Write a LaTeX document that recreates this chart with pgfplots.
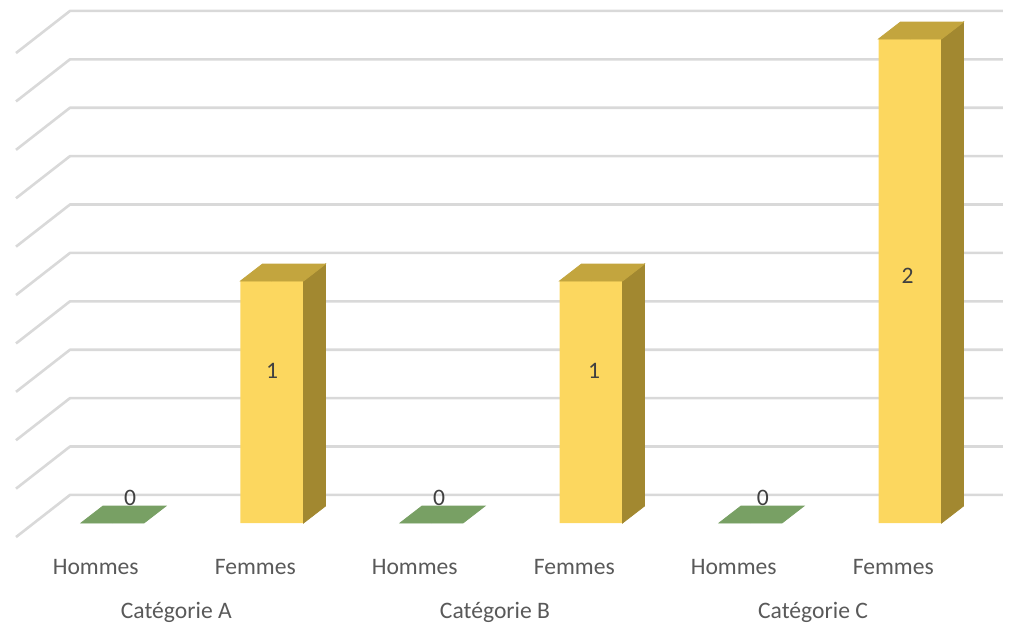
\documentclass[border=0pt]{standalone}
\usepackage{pgfplots}
\pgfplotsset{compat=1.18}
\usepackage{pgfplotstable}
\usepackage{fontspec}
\setmainfont{Carlito}
\definecolor{barfront}{RGB}{252,215,95}
\definecolor{bartop}{RGB}{195,165,62}
\definecolor{barside}{RGB}{162,136,48}
\definecolor{plate}{RGB}{120,160,100}
\definecolor{gridgray}{RGB}{217,217,217}
\definecolor{txt}{RGB}{89,89,89}
\definecolor{lab}{RGB}{64,64,64}

% values per category (x = slot index)
\pgfplotstableread{
x y
0 0
2 0
4 0
}\hommes
\pgfplotstableread{
x y
1 1
3 1
5 2
}\femmes

% 3d faces drawn at the top centre of each bar
\pgfplotsset{
  femmes3d/.style={only marks, scatter, mark=*, mark size=0pt,
    mark options={draw=none, fill=none},
    visualization depends on={\thisrow{y} \as \hval},
    scatter/@pre marker code/.code={
      \fill[barside] (15.75pt,0pt) -- (26.75pt,8.5pt) -- (26.75pt,{8.5pt-\hval*121pt}) -- (15.75pt,{-\hval*121pt}) -- cycle;
      \fill[bartop] (-15.75pt,0pt) -- (15.75pt,0pt) -- (26.75pt,8.5pt) -- (-4.75pt,8.5pt) -- cycle;
    },
    scatter/@post marker code/.code={}},
  hommes3d/.style={only marks, scatter, mark=*, mark size=0pt,
    mark options={draw=none, fill=none},
    scatter/@pre marker code/.code={
      \fill[plate] (-15.75pt,0pt) -- (15.75pt,0pt) -- (26.75pt,8.5pt) -- (-4.75pt,8.5pt) -- cycle;
    },
    scatter/@post marker code/.code={}},
}

\begin{document}
\begin{tikzpicture}[font=\fontsize{11.8}{14}\selectfont]
\begin{axis}[
  name=ax, hide axis, clip=false,
  x=79.75pt, y=121pt,
  xmin=-0.7053, xmax=5.6458, ymin=-0.4339, ymax=2.1612,
]
% back wall and side wall gridlines, every 0.2
\pgfplotsinvokeforeach{0,0.2,0.4,0.6,0.8,1.0,1.2,1.4,1.6,1.8,2.0}{
  \draw[gridgray, line width=1.3pt, line join=round]
    (axis cs:-0.605,{#1-0.058}) -- (axis cs:-0.2665,{#1+0.116}) -- (axis cs:5.583,{#1+0.116});
}
\addplot[ybar, bar width=31.5pt, bar shift=0pt, fill=barfront, draw=none] table {\femmes};
\addplot[femmes3d] table {\femmes};
\addplot[hommes3d] table {\hommes};
% data labels
\addplot[draw=none, nodes near coords, point meta=explicit symbolic,
  every node near coord/.append style={anchor=center, text=lab, inner sep=0pt}]
  coordinates {(0.110,0.105)[0] (1.0,0.629)[1] (2.047,0.105)[0]
               (3.02,0.629)[1] (4.078,0.105)[0] (4.985,1.021)[2]};
% category labels
\pgfplotsinvokeforeach{0,2,4}{
  \node[text=txt] at (axis cs:{#1-0.105},-0.182) {Hommes};
  \node[text=txt] at (axis cs:{#1+0.895},-0.182) {Femmes};
}
\node[text=txt] at (axis cs:0.400,-0.368) {Catégorie A};
\node[text=txt] at (axis cs:2.398,-0.368) {Catégorie B};
\node[text=txt] at (axis cs:4.392,-0.368) {Catégorie C};
\end{axis}
\pgfresetboundingbox
\path (ax.south west) rectangle (ax.north east);
\end{tikzpicture}
\end{document}
